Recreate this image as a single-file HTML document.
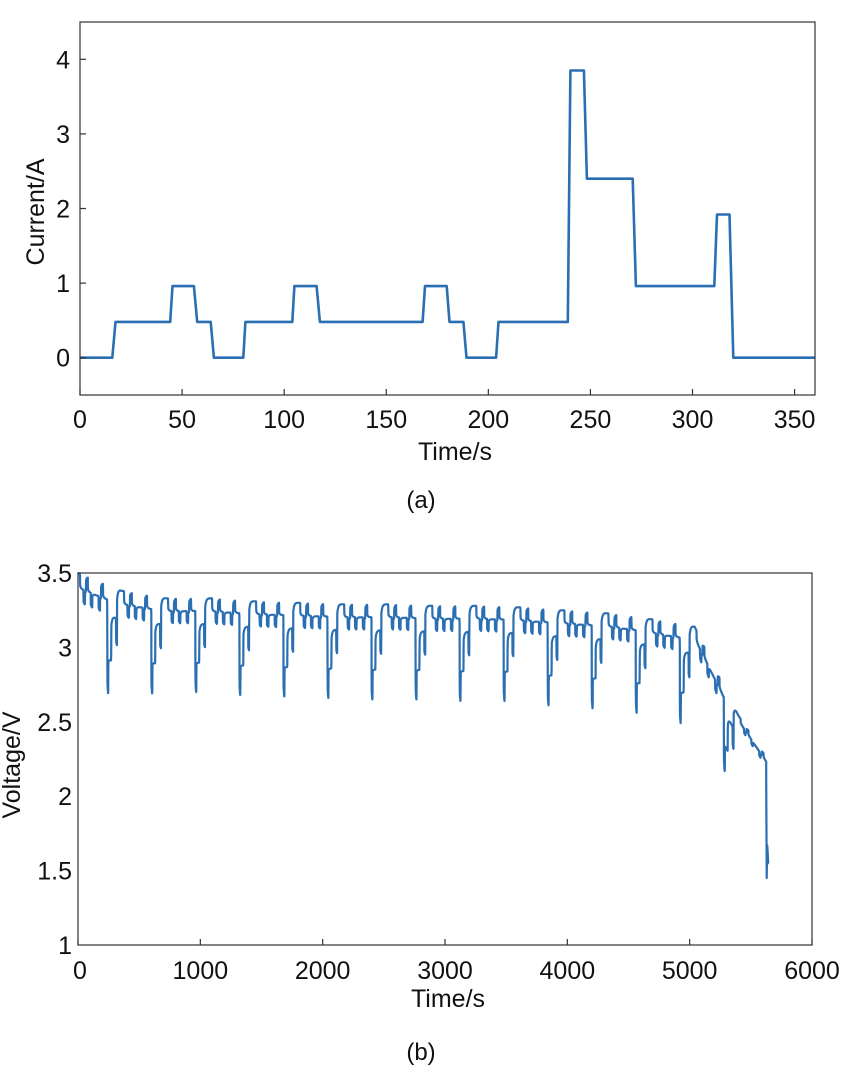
<!DOCTYPE html>
<html><head><meta charset="utf-8"><style>
body{margin:0;background:#fff;width:842px;height:1085px;overflow:hidden;font-family:"Liberation Sans",Arial,sans-serif}
svg{position:absolute;left:0;top:0}
text{font-family:"Liberation Sans",Arial,sans-serif;fill:#111}
</style></head><body>
<svg id="svg" width="842" height="1085">
<g id="ga"></g>
<g id="gb"></g>
<text x="421" y="508" text-anchor="middle" font-size="24">(a)</text>
<text x="421" y="1060" text-anchor="middle" font-size="24">(b)</text>
</svg>
<script>
// ---- chart (a) data: current profile breakpoints ----
const curTimes = [0,15.8,17.4,44.2,45.3,55.8,57.4,64,65.6,80,81,104,105,115.9,117.5,167.8,169,179.6,181,187.8,189.3,203.8,205,238.9,240.2,246.8,248.3,270.7,272.3,310.7,312,318.1,320,360];
const curValues = [0,0,0.48,0.48,0.96,0.96,0.48,0.48,0,0,0.48,0.48,0.96,0.96,0.48,0.48,0.96,0.96,0.48,0.48,0,0,0.48,0.48,3.85,3.85,2.4,2.4,0.96,0.96,1.92,1.92,0,0];
const curXTicks = [0,50,100,150,200,250,300,350];
const curYTicks = [0,1,2,3,4];
// ---- chart (b) data: per-cycle rest voltage and dip voltage ----
const restV = [3.50,3.38,3.33,3.33,3.31,3.30,3.29,3.29,3.28,3.28,3.27,3.25,3.23,3.19,3.14,2.54,2.10];
const dipV = [2.68,2.68,2.69,2.67,2.66,2.65,2.64,2.64,2.63,2.63,2.60,2.58,2.55,2.48,2.16,2.0];
const tailTimes = [5626,5630,5634,5638,5642,5648];
const tailValues = [2.12,1.45,1.67,1.62,1.55,1.55];
const voltXTicks = [0,1000,2000,3000,4000,5000,6000];
const voltYTicks = ['1','1.5','2','2.5','3','3.5'];

const NS='http://www.w3.org/2000/svg';
function mk(tag,attrs,parent){const e=document.createElementNS(NS,tag);for(const k in attrs)e.setAttribute(k,attrs[k]);parent.appendChild(e);return e;}
const COLOR='#2b6fb3';

// ----- chart a -----
(function(){
 const g=document.getElementById('ga');
 const L=80,R=815,T=22,B=395,x0=0,x1=360,y0=-0.5,y1=4.5;
 const X=v=>L+(v-x0)/(x1-x0)*(R-L), Y=v=>B-(v-y0)/(y1-y0)*(B-T);
 let d='';curTimes.forEach((t,i)=>{d+=(i?'L':'M')+X(t).toFixed(1)+','+Y(curValues[i]).toFixed(1);});
 const p=mk('path',{d:d,fill:'none',stroke:COLOR,'stroke-width':2.6,'stroke-linejoin':'round'},g);
 
 
 const box=mk('rect',{x:L,y:T,width:R-L,height:B-T,fill:'none',stroke:'#333','stroke-width':1.2},g);
 
 
 curXTicks.forEach(v=>{
  mk('line',{x1:X(v),x2:X(v),y1:B,y2:B-6,stroke:'#333','stroke-width':1.2},g);
  const t=mk('text',{x:X(v),y:B+33,'text-anchor':'middle','font-size':25},g);t.textContent=v;
  
  
 });
 curYTicks.forEach(v=>{
  mk('line',{x1:L,x2:L+6,y1:Y(v),y2:Y(v),stroke:'#333','stroke-width':1.2},g);
  const t=mk('text',{x:L-10,y:Y(v)+9,'text-anchor':'end','font-size':25},g);t.textContent=v;
  
  
 });
 const xt=mk('text',{x:455,y:460,'text-anchor':'middle','font-size':25},g);xt.textContent='Time/s';
 
 
 const yt=mk('text',{x:0,y:0,'text-anchor':'middle','font-size':25,transform:'translate(44,212) rotate(-90)'},g);yt.textContent='Current/A';
 
 
})();

// ----- chart b -----
(function(){
 const g=document.getElementById('gb');
 const L=78,R=812,T=573,B=945,x0=0,x1=6000,y0=1,y1=3.5;
 const X=v=>L+(v-x0)/(x1-x0)*(R-L), Y=v=>B-(v-y0)/(y1-y0)*(B-T);
 function cur(tc){for(let i=1;i<curTimes.length;i++){if(tc<=curTimes[i]){const a=curTimes[i-1],b=curTimes[i];const f=b>a?(tc-a)/(b-a):1;return curValues[i-1]+f*(curValues[i]-curValues[i-1]);}}return 0;}
 let d='',filt=0;
 const tEnd=tailTimes[0];
 for(let t=0;t<=tEnd;t++){
  const k=Math.floor(t/360),tc=t-k*360;
  const ocv=restV[k]+(restV[k+1]-restV[k])*tc/360;
  const ocvDip=restV[k]+(restV[k+1]-restV[k])*246/360;
  const Rk=(ocvDip-dipV[k])/3.56;
  const I=cur(tc);
  filt+= (I-filt)*0.12;
  const v=ocv-Rk*(0.75*I+0.25*filt);
  d+=(t?'L':'M')+X(t).toFixed(1)+','+Y(v).toFixed(1);
 }
 tailTimes.forEach((t,i)=>{d+='L'+X(t).toFixed(1)+','+Y(tailValues[i]).toFixed(1);});
 const p=mk('path',{d:d,fill:'none',stroke:COLOR,'stroke-width':2.2,'stroke-linejoin':'round'},g);
 
 
 const box=mk('rect',{x:L,y:T,width:R-L,height:B-T,fill:'none',stroke:'#333','stroke-width':1.2},g);
 
 
 voltXTicks.forEach(v=>{
  mk('line',{x1:X(v),x2:X(v),y1:B,y2:B-6,stroke:'#333','stroke-width':1.2},g);
  const t=mk('text',{x:X(v)+(v===0?2:0),y:B+34,'text-anchor':'middle','font-size':25},g);t.textContent=v;
  
  
 });
 voltYTicks.forEach(s=>{
  const v=parseFloat(s);
  const t=mk('text',{x:L-6,y:Y(v)+9,'text-anchor':'end','font-size':25},g);t.textContent=s;
  
  
 });
 const xt=mk('text',{x:448,y:1007,'text-anchor':'middle','font-size':25},g);xt.textContent='Time/s';
 
 
 const yt=mk('text',{x:0,y:0,'text-anchor':'middle','font-size':25,transform:'translate(20,765) rotate(-90)'},g);yt.textContent='Voltage/V';
 
 
})();
</script>
</body></html>
